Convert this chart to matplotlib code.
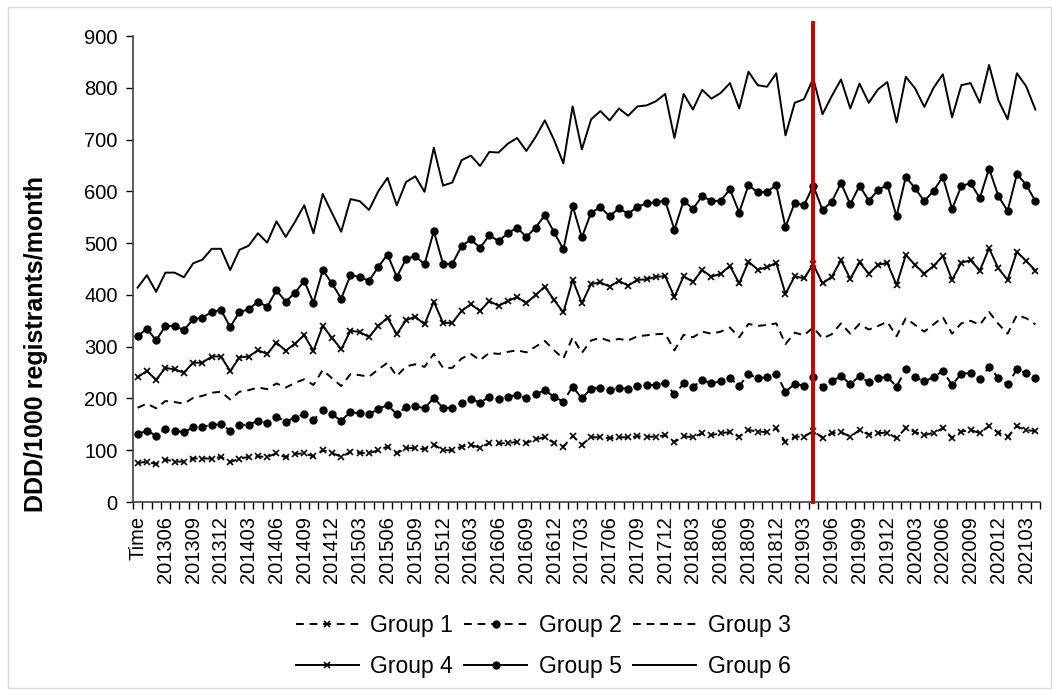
import matplotlib.pyplot as plt
from matplotlib.patches import Rectangle

plt.rcParams['font.family'] = ['Liberation Sans', 'DejaVu Sans']

# months 201303 .. 202104, first label shows "Time"
months = []
y, m = 2013, 3
while (y, m) <= (2021, 4):
    months.append(f'{y}{m:02d}')
    m += 1
    if m > 12:
        y, m = y + 1, 1
tick_labels = ['Time'] + months[1:]

group1 = [75, 78, 73, 82, 78, 78, 84, 84, 84, 87,
          77, 84, 87, 88, 87, 94, 86, 93, 94, 88,
          100, 95, 87, 97, 95, 94, 100, 107, 94, 104,
          104, 102, 111, 100, 100, 107, 110, 105, 114, 113,
          114, 116, 114, 121, 125, 114, 107, 127, 111, 125,
          125, 123, 125, 125, 127, 126, 126, 129, 116, 127,
          125, 133, 129, 133, 135, 126, 139, 136, 135, 142,
          116, 126, 126, 137, 124, 133, 135, 126, 139, 130,
          133, 134, 123, 143, 135, 129, 134, 142, 124, 136,
          139, 133, 147, 134, 126, 146, 139, 137]
group2 = [131, 138, 128, 141, 138, 135, 144, 145, 149, 150,
          138, 149, 149, 157, 153, 165, 155, 163, 170, 158,
          178, 169, 157, 174, 171, 169, 180, 187, 170, 183,
          185, 181, 201, 182, 182, 192, 199, 192, 203, 199,
          203, 207, 200, 208, 216, 203, 194, 223, 200, 219,
          221, 217, 220, 219, 224, 226, 226, 230, 208, 229,
          223, 235, 229, 233, 239, 224, 247, 239, 241, 248,
          213, 228, 225, 241, 223, 233, 243, 228, 243, 231,
          239, 242, 223, 256, 241, 233, 241, 253, 226, 248,
          249, 237, 261, 240, 227, 256, 249, 239]
group3 = [182, 190, 181, 195, 193, 190, 201, 205, 211, 213,
          198, 213, 216, 221, 218, 229, 221, 230, 237, 226,
          255, 239, 224, 247, 245, 242, 256, 269, 243, 262,
          266, 261, 286, 259, 259, 277, 286, 274, 288, 286,
          290, 293, 289, 300, 311, 293, 277, 318, 288, 312,
          317, 311, 315, 312, 320, 322, 324, 325, 293, 323,
          318, 329, 325, 329, 337, 318, 344, 340, 342, 345,
          305, 327, 322, 337, 316, 324, 345, 325, 344, 333,
          340, 348, 320, 355, 342, 329, 343, 357, 325, 345,
          350, 342, 367, 344, 325, 361, 355, 343]
group4 = [241, 253, 236, 259, 256, 250, 269, 269, 281, 281,
          253, 279, 281, 293, 286, 308, 292, 306, 322, 292,
          340, 317, 295, 331, 328, 319, 340, 356, 324, 351,
          358, 343, 387, 346, 346, 369, 382, 369, 388, 379,
          388, 396, 384, 400, 416, 390, 366, 429, 384, 421,
          424, 416, 427, 418, 429, 430, 435, 436, 396, 436,
          425, 448, 435, 441, 456, 422, 464, 449, 453, 462,
          402, 436, 432, 459, 422, 435, 467, 431, 463, 441,
          458, 462, 419, 477, 458, 441, 456, 475, 429, 462,
          467, 447, 490, 451, 429, 483, 466, 447]
group5 = [320, 335, 312, 340, 340, 332, 353, 356, 367, 371,
          338, 367, 372, 387, 377, 409, 387, 404, 427, 385,
          448, 422, 393, 438, 435, 427, 454, 478, 435, 469,
          475, 459, 523, 460, 460, 494, 507, 491, 515, 504,
          519, 530, 512, 530, 554, 521, 488, 572, 511, 559,
          569, 552, 567, 557, 570, 577, 579, 582, 526, 582,
          566, 591, 581, 582, 604, 559, 612, 598, 599, 612,
          531, 578, 573, 611, 564, 580, 616, 575, 611, 582,
          602, 613, 552, 628, 606, 581, 601, 628, 566, 610,
          616, 587, 644, 591, 562, 633, 613, 581]
group6 = [414, 438, 406, 443, 443, 434, 461, 468, 489, 489,
          448, 487, 495, 519, 501, 542, 512, 541, 573, 519,
          595, 558, 522, 585, 581, 564, 600, 626, 573, 618,
          629, 599, 684, 611, 617, 660, 669, 649, 676, 675,
          692, 703, 678, 705, 737, 699, 654, 764, 681, 739,
          755, 737, 760, 746, 764, 766, 774, 788, 703, 788,
          758, 796, 779, 790, 809, 760, 831, 805, 802, 828,
          708, 771, 778, 818, 749, 784, 816, 760, 808, 771,
          797, 811, 733, 821, 799, 763, 800, 826, 743, 805,
          809, 771, 844, 776, 739, 828, 803, 758]
cutoff_month = '201904'

x = list(range(len(months)))

fig = plt.figure(figsize=(10.59, 6.95), dpi=100)
ax = fig.add_axes([133 / 1059, 1 - 502 / 695, 907 / 1059, 466 / 695])

lw = 1.4
dash = (0, (4, 3))
l1, = ax.plot(x, group1, color='black', lw=lw, ls=dash, marker='x', ms=4.5, mew=1.2, label='Group 1')
l2, = ax.plot(x, group2, color='black', lw=lw, ls=dash, marker='o', ms=5, label='Group 2')
l3, = ax.plot(x, group3, color='black', lw=lw, ls=dash, label='Group 3')
l4, = ax.plot(x, group4, color='black', lw=lw, marker='x', ms=4.5, mew=1.2, label='Group 4')
l5, = ax.plot(x, group5, color='black', lw=lw, marker='o', ms=5, label='Group 5')
l6, = ax.plot(x, group6, color='black', lw=lw, label='Group 6')

# vertical marker line
ax.plot([months.index(cutoff_month)] * 2, [0, 925], color='#c00000', lw=2.8, clip_on=False, zorder=5)

ax.set_xlim(-0.5, len(months) - 0.5)
ax.set_ylim(0, 900)
ax.set_yticks(range(0, 901, 100))
ax.tick_params(axis='y', labelsize=14.5, length=5, width=1, direction='out', pad=6)

ax.set_xticks(x[::3])
ax.set_xticklabels(tick_labels[::3], rotation=90)
ax.set_xticks([i - 0.5 for i in range(len(months) + 1)], minor=True)
ax.tick_params(axis='x', which='major', length=0, labelsize=14.5, pad=10)
ax.tick_params(axis='x', which='minor', length=5, width=1, direction='out')

for s in ['top', 'right']:
    ax.spines[s].set_visible(False)
for s in ['left', 'bottom']:
    ax.spines[s].set_color('#404040')
    ax.spines[s].set_linewidth(1.2)

ax.set_ylabel('DDD/1000 registrants/month', fontsize=18, fontweight='bold')
ax.yaxis.set_label_coords(-0.094, 0.34)

handles = [l1, l4, l2, l5, l3, l6]
fig.legend(handles=handles, labels=[h.get_label() for h in handles],
           loc='center', bbox_to_anchor=(543 / 1059, 1 - 646 / 695), ncol=3,
           frameon=False, fontsize=16.5, handlelength=2.75, handletextpad=0.5,
           columnspacing=0.5, labelspacing=0.8)

# light chart border
fig.patches.append(Rectangle((8 / 1059, 1 - 688 / 695), 1043 / 1059, 681 / 695,
                             transform=fig.transFigure, fill=False,
                             edgecolor='#d9d9d9', lw=1))

fig.savefig('out.png', dpi=100)
